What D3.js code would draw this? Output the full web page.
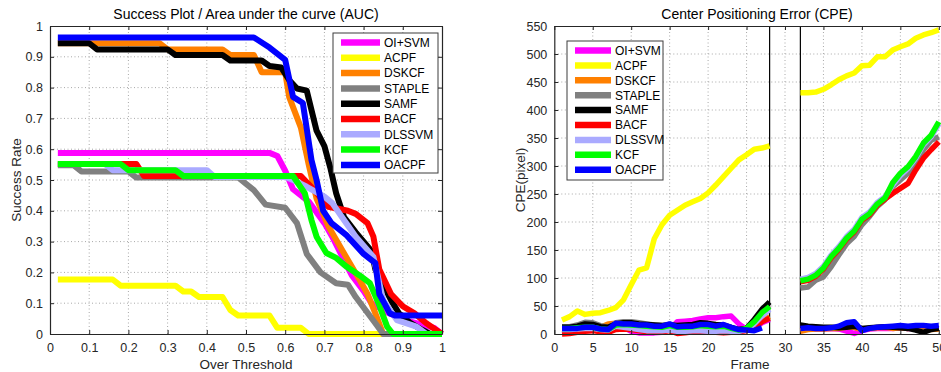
<!DOCTYPE html>
<html><head><meta charset="utf-8">
<script src="https://cdn.jsdelivr.net/npm/d3@7"></script>
<style>
body{margin:0;background:#fff;}
text{font-family:"Liberation Sans",Arial,Helvetica,sans-serif;}
</style></head>
<body><svg id="chart" width="941" height="372"></svg>
<script>
// ---------- DATA ----------
const names  = ["OI+SVM","ACPF","DSKCF","STAPLE","SAMF","BACF","DLSSVM","KCF","OACPF"];
const colors = ["#ff00ff","#ffff00","#ff8000","#808080","#000000","#ff0000","#aaaaff","#00ff00","#0000ff"];

// Success plot: [threshold, success rate]
const succ_OISVM  = [[0.02,0.588],[0.56,0.588],[0.58,0.578],[0.60,0.53],[0.62,0.47],[0.64,0.45],[0.66,0.43],[0.70,0.36],[0.72,0.316],[0.75,0.24],[0.77,0.19],[0.80,0.14],[0.82,0.10],[0.86,0.07],[0.92,0.04],[0.98,0.02],[1.0,0.0]];
const succ_ACPF   = [[0.02,0.177],[0.16,0.177],[0.18,0.157],[0.32,0.157],[0.34,0.138],[0.36,0.138],[0.38,0.12],[0.44,0.12],[0.46,0.078],[0.48,0.06],[0.56,0.06],[0.58,0.02],[0.64,0.02],[0.66,0.0],[1.0,0.0]];
const succ_DSKCF  = [[0.02,0.944],[0.28,0.944],[0.30,0.924],[0.44,0.924],[0.46,0.906],[0.52,0.906],[0.54,0.85],[0.60,0.85],[0.61,0.77],[0.64,0.67],[0.66,0.55],[0.68,0.44],[0.71,0.35],[0.76,0.24],[0.79,0.175],[0.81,0.13],[0.83,0.067],[0.85,0.0],[1.0,0.0]];
const succ_STAPLE = [[0.02,0.548],[0.06,0.548],[0.08,0.528],[0.20,0.528],[0.22,0.508],[0.48,0.508],[0.52,0.467],[0.55,0.42],[0.60,0.41],[0.63,0.36],[0.655,0.26],[0.69,0.20],[0.73,0.165],[0.76,0.16],[0.78,0.12],[0.83,0.035],[0.85,0.0],[1.0,0.0]];
const succ_SAMF   = [[0.02,0.944],[0.10,0.944],[0.12,0.924],[0.30,0.924],[0.32,0.906],[0.44,0.906],[0.46,0.888],[0.54,0.888],[0.56,0.87],[0.59,0.865],[0.61,0.825],[0.63,0.797],[0.655,0.79],[0.68,0.66],[0.70,0.61],[0.715,0.54],[0.73,0.457],[0.75,0.38],[0.78,0.33],[0.80,0.30],[0.82,0.27],[0.83,0.21],[0.87,0.11],[0.89,0.067],[0.92,0.035],[0.95,0.013],[0.97,0.0],[1.0,0.0]];
const succ_BACF   = [[0.02,0.552],[0.22,0.552],[0.24,0.513],[0.64,0.513],[0.67,0.473],[0.71,0.413],[0.76,0.40],[0.78,0.39],[0.81,0.36],[0.825,0.316],[0.84,0.21],[0.87,0.13],[0.90,0.09],[0.93,0.067],[0.96,0.035],[1.0,0.0]];
const succ_DLSSVM = [[0.02,0.552],[0.14,0.552],[0.16,0.532],[0.40,0.532],[0.42,0.51],[0.60,0.51],[0.62,0.50],[0.655,0.478],[0.70,0.446],[0.72,0.425],[0.75,0.37],[0.78,0.316],[0.825,0.25],[0.85,0.11],[0.885,0.045],[0.935,0.024],[0.96,0.0],[1.0,0.0]];
const succ_KCF    = [[0.02,0.552],[0.18,0.552],[0.20,0.532],[0.32,0.532],[0.34,0.513],[0.62,0.513],[0.65,0.457],[0.667,0.37],[0.68,0.316],[0.705,0.263],[0.73,0.247],[0.757,0.218],[0.79,0.19],[0.816,0.165],[0.838,0.10],[0.86,0.024],[0.875,0.0],[1.0,0.0]];
const succ_OACPF  = [[0.02,0.963],[0.52,0.963],[0.56,0.93],[0.60,0.89],[0.62,0.77],[0.645,0.75],[0.667,0.565],[0.68,0.50],[0.697,0.40],[0.718,0.36],[0.757,0.32],[0.80,0.26],[0.83,0.23],[0.84,0.13],[0.867,0.067],[0.88,0.06],[1.0,0.06]];
const succSeries = [succ_OISVM,succ_ACPF,succ_DSKCF,succ_STAPLE,succ_SAMF,succ_BACF,succ_DLSSVM,succ_KCF,succ_OACPF];

// CPE: two visible segments of frames
const frames1 = [1,2,3,4,5,6,7,8,9,10,11,12,13,14,15,16,17,18,19,20,21,22,23,24,25,26,27,28];
const frames2 = [32,33,34,35,36,37,38,39,40,41,42,43,44,45,46,47,48,49,50];
const cpe1_OISVM  = [8,8,9,11,12,9,8,14,12,5,2,2,2,3,8,22,23,24,27,29,29,31,32,18,8,12,20,26];
const cpe1_ACPF   = [25,31,41,35,37,38,42,47,61,88,114,118,170,195,212,221,230,236,242,252,266,281,296,311,320,330,332,336];
const cpe1_DSKCF  = [9,9,11,13,14,12,18,19,18,16,15,14,13,12,14,12,12,13,14,13,12,13,10,7,8,15,24,31];
const cpe1_STAPLE = [13,13,16,21,20,15,12,20,22,22,20,18,16,15,17,15,15,16,17,16,15,14,10,7,9,22,38,50];
const cpe1_SAMF   = [12,12,14,18,17,13,12,18,20,20,18,17,16,15,16,15,16,17,20,19,17,16,12,8,10,26,44,57];
const cpe1_BACF   = [0,1,3,5,6,4,3,8,9,8,6,4,3,4,6,1,2,4,5,4,3,2,3,4,6,12,22,28];
const cpe1_DLSSVM = [8,8,9,10,10,8,7,14,12,10,8,6,6,6,7,5,5,6,6,5,5,6,5,5,8,18,32,44];
const cpe1_KCF    = [10,10,11,12,12,9,8,16,17,16,15,14,13,12,15,12,12,13,15,14,13,14,10,7,10,22,38,49];
const cpe1_OACPF  = [10,10,10,12,12,9,8,19,18,18,16,16,14,14,18,13,14,14,17,17,14,17,12,8,7,6,11,null];
const cpe2_OISVM  = [12,10,9,9,10,9,5,1,6,9,10,10,10,11,10,10,9,10,10];
const cpe2_ACPF   = [431,431,432,437,445,454,461,466,479,480,495,495,507,513,518,528,534,538,543];
const cpe2_DSKCF  = [5,8,9,9,10,10,12,12,8,10,11,12,10,11,10,12,10,8,9];
const cpe2_STAPLE = [82,84,96,102,120,141,161,174,195,210,228,240,263,275,287,305,329,346,352];
const cpe2_SAMF   = [16,14,13,12,12,11,12,14,10,11,12,13,12,11,10,7,3,8,10];
const cpe2_BACF   = [93,96,103,116,136,151,169,182,203,213,230,241,251,260,269,293,314,329,343];
const cpe2_DLSSVM = [98,101,108,121,141,156,174,187,208,218,235,245,266,283,296,314,338,352,375];
const cpe2_KCF    = [95,98,105,118,138,153,171,184,205,215,232,243,270,287,299,317,341,355,379];
const cpe2_OACPF  = [10,11,10,10,11,14,20,22,6,10,12,13,14,15,14,15,15,14,15];
const cpe1 = [cpe1_OISVM,cpe1_ACPF,cpe1_DSKCF,cpe1_STAPLE,cpe1_SAMF,cpe1_BACF,cpe1_DLSSVM,cpe1_KCF,cpe1_OACPF];
const cpe2 = [cpe2_OISVM,cpe2_ACPF,cpe2_DSKCF,cpe2_STAPLE,cpe2_SAMF,cpe2_BACF,cpe2_DLSSVM,cpe2_KCF,cpe2_OACPF];
const markerFrames = [28,32];

const succXTicks = [0,0.1,0.2,0.3,0.4,0.5,0.6,0.7,0.8,0.9,1];
const succYTicks = [0,0.1,0.2,0.3,0.4,0.5,0.6,0.7,0.8,0.9,1];
const cpeXTicks = [0,5,10,15,20,25,30,35,40,45,50];
const cpeYTicks = [0,50,100,150,200,250,300,350,400,450,500,550];

// ---------- DRAW ----------
const svg = d3.select("#chart");
const tickColor = "#262626";

function frame(g, x, y, xt, yt) {
  const [x0,x1] = x.range(), [y0,y1] = y.range();
  g.append("g").selectAll("line").data(xt.filter(t=>x(t)>x0+1 && x(t)<x1-1)).join("line")
    .attr("x1",d=>x(d)).attr("x2",d=>x(d)).attr("y1",y0).attr("y2",y1)
    .attr("stroke","#a8a8a8").attr("stroke-width",1).attr("stroke-dasharray","1,2.5");
  g.append("g").selectAll("line").data(yt.filter(t=>y(t)<y0-1 && y(t)>y1+1)).join("line")
    .attr("y1",d=>y(d)).attr("y2",d=>y(d)).attr("x1",x0).attr("x2",x1)
    .attr("stroke","#a8a8a8").attr("stroke-width",1).attr("stroke-dasharray","1,2.5");
}
function axes(g, x, y, xt, yt, fmtX, fmtY) {
  const [x0,x1] = x.range(), [y0,y1] = y.range();
  const ax = g.append("g").attr("transform",`translate(0,${y0})`)
    .call(d3.axisBottom(x).tickValues(xt).tickFormat(fmtX).tickSize(-4).tickPadding(9).tickSizeOuter(0));
  const ay = g.append("g").attr("transform",`translate(${x0},0)`)
    .call(d3.axisLeft(y).tickValues(yt).tickFormat(fmtY).tickSize(-4).tickPadding(7).tickSizeOuter(0));
  const at = g.append("g").attr("transform",`translate(0,${y1})`)
    .call(d3.axisTop(x).tickValues(xt).tickFormat("").tickSize(-4).tickSizeOuter(0));
  const ar = g.append("g").attr("transform",`translate(${x1},0)`)
    .call(d3.axisRight(y).tickValues(yt).tickFormat("").tickSize(-4).tickSizeOuter(0));
  [ax,ay,at,ar].forEach(a=>{
    a.selectAll("path").attr("stroke","#262626").attr("stroke-width",1.2);
    a.selectAll("line").attr("stroke","#262626");
    a.selectAll("text").attr("fill",tickColor).style("font-size","12.5px").style("font-family","Liberation Sans, Arial, sans-serif");
  });
}
function legend(g, lx, ly, w, h, rowH, swW) {
  const lg = g.append("g");
  lg.append("rect").attr("x",lx).attr("y",ly).attr("width",w).attr("height",h)
    .attr("fill","#fff").attr("stroke","#3c3c3c").attr("stroke-width",1);
  names.forEach((n,i)=>{
    const yy = ly + 9.5 + i*rowH;
    lg.append("line").attr("x1",lx+8).attr("x2",lx+8+swW).attr("y1",yy).attr("y2",yy)
      .attr("stroke",colors[i]).attr("stroke-width",6.5);
    lg.append("text").attr("x",lx+12+swW).attr("y",yy).attr("dy","0.36em")
      .attr("fill","#000").style("font-size","12px").text(n);
  });
}

// Left chart
{
  const x = d3.scaleLinear().domain([0,1]).range([50,442]);
  const y = d3.scaleLinear().domain([0,1]).range([334,26]);
  const g = svg.append("g");
  frame(g,x,y,succXTicks,succYTicks);
  const line = d3.line().x(d=>x(d[0])).y(d=>y(d[1]));
  succSeries.forEach((s,i)=>{
    g.append("path").attr("d",line(s)).attr("fill","none").attr("stroke",colors[i])
      .attr("stroke-width",6).attr("stroke-linejoin","round").attr("stroke-linecap","butt");
  });
  axes(g,x,y,succXTicks,succYTicks,d3.format("~g"),d3.format("~g"));
  legend(g,333,33,105,140,15.3,39);
  g.append("text").attr("x",246).attr("y",19).attr("text-anchor","middle").style("font-size","14px").attr("fill","#000")
    .text("Success Plot / Area under the curve (AUC)");
  g.append("text").attr("x",246).attr("y",369).attr("text-anchor","middle").style("font-size","13.5px").attr("fill","#262626")
    .text("Over Threshold");
  g.append("text").attr("transform","translate(21,180) rotate(-90)").attr("text-anchor","middle").style("font-size","13.5px").attr("fill","#262626")
    .text("Success Rate");
}

// Right chart
{
  const x = d3.scaleLinear().domain([0,53]).range([554.3,554.3+53*7.69]);
  const y = d3.scaleLinear().domain([0,550]).range([334,26]);
  const g = svg.append("g");
  frame(g,x,y,cpeXTicks,cpeYTicks);
  markerFrames.forEach(f=>{
    g.append("line").attr("x1",x(f)).attr("x2",x(f)).attr("y1",y(0)).attr("y2",y(550))
      .attr("stroke","#000").attr("stroke-width",1.2);
  });
  const line = d3.line().defined(d=>d[1]!=null).x(d=>x(d[0])).y(d=>y(d[1]));
  names.forEach((n,i)=>{
    [[frames1,cpe1[i]],[frames2,cpe2[i]]].forEach(([fr,vals])=>{
      g.append("path").attr("d",line(fr.map((f,k)=>[f,vals[k]]))).attr("fill","none").attr("stroke",colors[i])
        .attr("stroke-width",5.5).attr("stroke-linejoin","round").attr("stroke-linecap","butt");
    });
  });
  axes(g,x,y,cpeXTicks,cpeYTicks,d3.format("~g"),d3.format("~g"));
  legend(g,567,41,96,139,14.9,36);
  g.append("text").attr("x",757).attr("y",19).attr("text-anchor","middle").style("font-size","14px").attr("fill","#000")
    .text("Center Positioning Error (CPE)");
  g.append("text").attr("x",750).attr("y",369).attr("text-anchor","middle").style("font-size","13.5px").attr("fill","#262626")
    .text("Frame");
  g.append("text").attr("transform","translate(525,180) rotate(-90)").attr("text-anchor","middle").style("font-size","13.5px").attr("fill","#262626")
    .text("CPE(pixel)");
}
</script></body></html>
